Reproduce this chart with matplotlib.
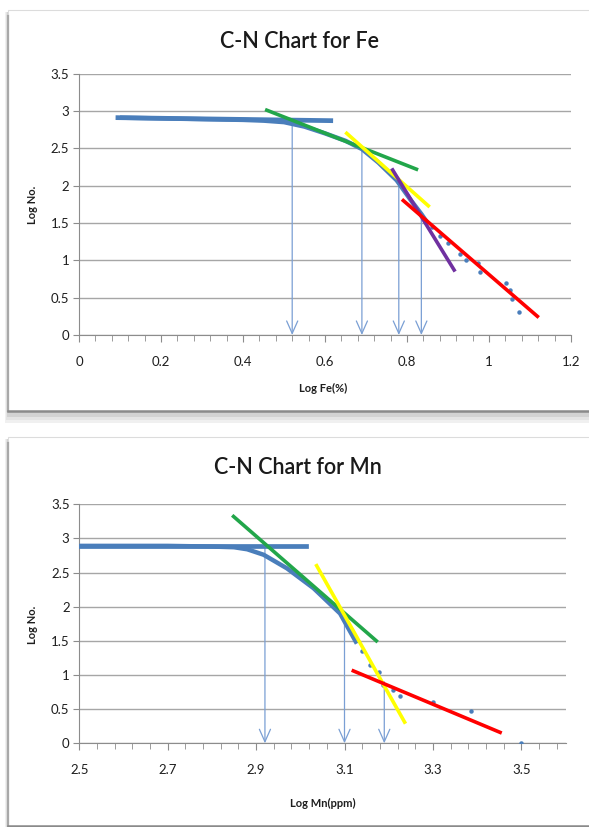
import matplotlib
matplotlib.use("Agg")
import matplotlib.pyplot as plt
from matplotlib.patches import Rectangle
import numpy as np

plt.rcParams['font.family'] = ['Lato', 'DejaVu Sans']

# ---------------- Data: Fe chart ----------------
fe_flat_x = [0.095, 0.614]
fe_flat_y = [2.91, 2.87]
fe_curve_x = [0.10, 0.20, 0.30, 0.40, 0.45, 0.50, 0.55, 0.60, 0.65, 0.69, 0.73, 0.775, 0.81, 0.835, 0.85]
fe_curve_y = [2.91, 2.90, 2.89, 2.88, 2.87, 2.85, 2.79, 2.70, 2.60, 2.49, 2.31, 2.07, 1.80, 1.62, 1.50]
fe_dots_x = [0.86, 0.88, 0.90, 0.93, 0.945, 0.974, 0.978, 1.041, 1.051, 1.057, 1.074]
fe_dots_y = [1.45, 1.33, 1.23, 1.08, 1.00, 0.96, 0.85, 0.70, 0.60, 0.48, 0.31]
fe_green_x = [0.458, 0.823]; fe_green_y = [3.01, 2.22]
fe_yellow_x = [0.653, 0.852]; fe_yellow_y = [2.70, 1.73]
fe_purple_x = [0.765, 0.915]; fe_purple_y = [2.21, 0.87]
fe_red_x = [0.791, 1.118]; fe_red_y = [1.80, 0.25]
fe_arrow_x = [0.52, 0.69, 0.78, 0.835]
fe_arrow_top = [2.81, 2.49, 2.05, 1.60]
fe_xticks = [0, 0.2, 0.4, 0.6, 0.8, 1, 1.2]
fe_xticklabels = ['0', '0.2', '0.4', '0.6', '0.8', '1', '1.2']

# ---------------- Data: Mn chart ----------------
mn_flat_x = [2.50, 3.014]
mn_flat_y = [2.89, 2.89]
mn_curve_x = [2.50, 2.60, 2.70, 2.80, 2.85, 2.88, 2.917, 2.97, 3.03, 3.09, 3.128]
mn_curve_y = [2.89, 2.89, 2.89, 2.88, 2.87, 2.84, 2.76, 2.56, 2.27, 1.90, 1.46]
mn_dots_x = [3.14, 3.158, 3.177, 3.188, 3.21, 3.226, 3.30, 3.387, 3.50]
mn_dots_y = [1.35, 1.15, 1.05, 0.85, 0.78, 0.69, 0.61, 0.48, 0.01]
mn_green_x = [2.849, 3.172]; mn_green_y = [3.32, 1.50]
mn_yellow_x = [3.037, 3.236]; mn_yellow_y = [2.60, 0.31]
mn_red_x = [3.120, 3.452]; mn_red_y = [1.06, 0.16]
mn_arrow_x = [2.92, 3.10, 3.19]
mn_arrow_top = [2.85, 1.80, 0.90]
mn_xticks = [2.5, 2.7, 2.9, 3.1, 3.3, 3.5]
mn_xticklabels = ['2.5', '2.7', '2.9', '3.1', '3.3', '3.5']

yticks = [0, 0.5, 1, 1.5, 2, 2.5, 3, 3.5]
yticklabels = ['0', '0.5', '1', '1.5', '2', '2.5', '3', '3.5']

W, H = 589, 827
fig = plt.figure(figsize=(W / 100, H / 100), dpi=100)
fig.patch.set_facecolor('white')

# background frames (pixel coordinates)
bg = fig.add_axes([0, 0, 1, 1], zorder=-10)
bg.set_xlim(0, W); bg.set_ylim(H, 0); bg.axis('off')
for top, bot in [(10, 411), (437, 826)]:
    for k, c in enumerate(['#f0f0f0', '#e4e4e4', '#d2d2d2']):
        bg.add_patch(Rectangle((8 - 3 + k, top + 2), W, bot - top + 10 - 3 * k, facecolor=c, edgecolor='none'))
    bg.add_patch(Rectangle((8, top), W, bot - top, facecolor='white', edgecolor='#dcdcdc', lw=0.8))
    bg.plot([8, 8], [top + 6, bot], color='#a8a8a8', lw=1.6)
    bg.plot([8, W], [bot, bot], color='#8a8a8a', lw=1.8)

blue = '#4a7ebb'
arrow_c = '#7a9fd4'
txt_c = '#1e1e1e'
grid_c = '#a6a6a6'


def style_axes(ax, xlim, xticks, xticklabels, minor_step):
    ax.set_facecolor('none')
    ax.set_xlim(*xlim)
    ax.set_ylim(0, 3.5)
    ax.set_yticks(yticks)
    ax.set_yticklabels(yticklabels)
    ax.set_xticks(xticks)
    ax.set_xticklabels(xticklabels)
    ax.set_xticks(np.arange(xlim[0], xlim[1] + 1e-9, minor_step), minor=True)
    ax.grid(axis='y', color=grid_c, lw=1.0)
    ax.set_axisbelow(True)
    for s in ['top', 'right']:
        ax.spines[s].set_visible(False)
    ax.spines['left'].set_color('#8c8c8c')
    ax.spines['bottom'].set_color('#8c8c8c')
    ax.tick_params(axis='y', length=4, color='#8c8c8c', labelsize=9.5, labelcolor=txt_c, pad=3)
    ax.tick_params(axis='x', which='major', length=5, color='#8c8c8c', labelsize=9.5, labelcolor=txt_c, pad=10)
    ax.tick_params(axis='x', which='minor', length=4, color='#8c8c8c')


def draw_arrows(ax, xs, tops):
    for x, t in zip(xs, tops):
        ax.annotate('', xy=(x, 0), xytext=(x, t),
                    arrowprops=dict(arrowstyle='->,head_length=0.9,head_width=0.4',
                                    color=arrow_c, lw=0.9, shrinkA=0, shrinkB=0,
                                    mutation_scale=10), zorder=2)


# ---------------- Top chart ----------------
ax1 = fig.add_axes([79 / W, (H - 335) / H, 492 / W, (335 - 73.6) / H])
style_axes(ax1, (0, 1.2), fe_xticks, fe_xticklabels, 0.04)
draw_arrows(ax1, fe_arrow_x, fe_arrow_top)
ax1.plot(fe_curve_x, fe_curve_y, color=blue, lw=3.2, solid_capstyle='butt', zorder=3)
ax1.plot(fe_flat_x, fe_flat_y, color=blue, lw=3.4, zorder=3)
ax1.plot(fe_dots_x, fe_dots_y, 'o', color=blue, ms=2.2, zorder=3)
ax1.plot(fe_green_x, fe_green_y, color='#22a64a', lw=2.6, zorder=4)
ax1.plot(fe_yellow_x, fe_yellow_y, color='#ffff00', lw=2.6, zorder=4)
ax1.plot(fe_purple_x, fe_purple_y, color='#7030a0', lw=2.6, zorder=5)
ax1.plot(fe_red_x, fe_red_y, color='#ff0000', lw=2.6, zorder=6)

fig.text(299 / W, 1 - 42 / H, 'C-N Chart for Fe', ha='center', va='center', fontsize=15.5, fontweight=600, color='#1a1a1a')
fig.text(323 / W, 1 - 388 / H, 'Log Fe(%)', ha='center', va='center', fontsize=8, fontweight='bold', color=txt_c)
fig.text(33 / W, 1 - 205 / H, 'Log No.', ha='center', va='center', rotation=90, fontsize=8, fontweight='bold', color=txt_c)

# ---------------- Bottom chart ----------------
ax2 = fig.add_axes([79.3 / W, (H - 743.3) / H, (565.5 - 79.3) / W, (743.3 - 504.2) / H])
style_axes(ax2, (2.5, 3.6), mn_xticks, mn_xticklabels, 0.04)
draw_arrows(ax2, mn_arrow_x, mn_arrow_top)
ax2.plot(mn_curve_x, mn_curve_y, color=blue, lw=3.2, solid_capstyle='butt', zorder=3)
ax2.plot(mn_flat_x, mn_flat_y, color=blue, lw=3.4, zorder=3)
ax2.plot(mn_dots_x, mn_dots_y, 'o', color=blue, ms=2.2, zorder=3)
ax2.plot(mn_green_x, mn_green_y, color='#22a64a', lw=2.6, zorder=4)
ax2.plot(mn_yellow_x, mn_yellow_y, color='#ffff00', lw=2.6, zorder=5)
ax2.plot(mn_red_x, mn_red_y, color='#ff0000', lw=2.6, zorder=6)

fig.text(298 / W, 1 - 467 / H, 'C-N Chart for Mn', ha='center', va='center', fontsize=15.5, fontweight=600, color='#1a1a1a')
fig.text(323 / W, 1 - 803 / H, 'Log Mn(ppm)', ha='center', va='center', fontsize=8, fontweight='bold', color=txt_c)
fig.text(33 / W, 1 - 625 / H, 'Log No.', ha='center', va='center', rotation=90, fontsize=8, fontweight='bold', color=txt_c)

fig.savefig('out.png', dpi=100, facecolor='white')
